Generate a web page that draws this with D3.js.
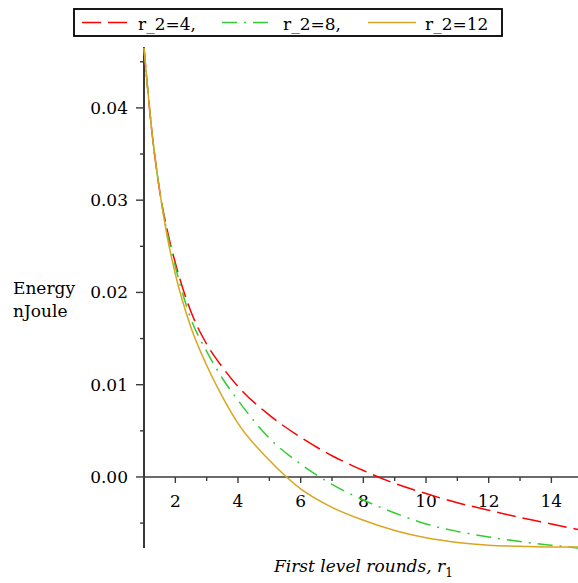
<!DOCTYPE html>
<html><head><meta charset="utf-8">
<script src="https://cdn.jsdelivr.net/npm/d3@7"></script>
<style>body{margin:0;background:#fff}svg{display:block}</style>
</head><body>
<script>
const xValues = [1, 1.25, 1.5, 1.75, 2, 2.5, 3, 3.5, 4, 5, 6, 7, 8, 9, 10, 11, 12, 13, 14, 14.85];
const seriesNames = ["r_2=4,", "r_2=8,", "r_2=12"];
const r2_4  = [0.0465,0.0375,0.0310,0.0266,0.0232,0.0179,0.0144,0.0119,0.0098,0.0067,0.0043,0.0023,0.0007,-0.0007,-0.0018,-0.0028,-0.0036,-0.0044,-0.0051,-0.0057];
const r2_8  = [0.0465,0.0375,0.0310,0.0263,0.0228,0.0171,0.0136,0.0107,0.0083,0.0042,0.0014,-0.0008,-0.0025,-0.0039,-0.0051,-0.0059,-0.0065,-0.0070,-0.0074,-0.0077];
const r2_12 = [0.0465,0.0375,0.0310,0.0259,0.0220,0.0162,0.0121,0.0087,0.0058,0.0018,-0.0013,-0.0033,-0.0047,-0.0058,-0.0066,-0.0071,-0.0074,-0.0075,-0.0076,-0.0076];
const xTickLabels = ["2","4","6","8","10","12","14"];
const yTickLabels = ["0.00","0.01","0.02","0.03","0.04"];

const W = 578, H = 583;
const font = "'DejaVu Serif', serif";
const svg = d3.select("body").append("svg").attr("width", W).attr("height", H);

const x = d3.scaleLinear().domain([1, 14.85]).range([144, 578]);
const y = d3.scaleLinear().domain([-0.0077, 0.0466]).range([548, 47]);
const axisColor = "#3a3a3a";

// X axis (at y=0)
const xMajor = xTickLabels.map(Number);
const xMinor = d3.range(3, 15, 2);
const gx = svg.append("g").attr("transform", `translate(0,${y(0)})`);
gx.append("line").attr("x1", x(1)).attr("x2", W).attr("stroke", axisColor).attr("stroke-width", 1.6);
gx.selectAll(".mj").data(xMajor).join("line").attr("x1", d => x(d)).attr("x2", d => x(d)).attr("y1", 0).attr("y2", 6).attr("stroke", axisColor).attr("stroke-width", 1.4);
gx.selectAll(".mn").data(xMinor).join("line").attr("x1", d => x(d)).attr("x2", d => x(d)).attr("y1", 0).attr("y2", 4).attr("stroke", axisColor).attr("stroke-width", 1.4);
gx.selectAll("text").data(xTickLabels).join("text").attr("x", d => x(+d)).attr("y", 30)
  .attr("text-anchor", "middle").attr("font-family", font).attr("font-size", 17).attr("fill", "#000").text(d => d);

// Y axis
const yMajor = yTickLabels.map(Number);
const yMinor = [-0.005, 0.005, 0.015, 0.025, 0.035, 0.045];
const gy = svg.append("g").attr("transform", `translate(${x(1)},0)`);
gy.append("line").attr("y1", y(0.0466)).attr("y2", y(-0.0077)).attr("stroke", axisColor).attr("stroke-width", 2);
gy.selectAll(".mj").data(yMajor).join("line").attr("y1", d => y(d)).attr("y2", d => y(d)).attr("x1", -8).attr("x2", 0).attr("stroke", axisColor).attr("stroke-width", 1.4);
gy.selectAll(".mn").data(yMinor).join("line").attr("y1", d => y(d)).attr("y2", d => y(d)).attr("x1", -4).attr("x2", 0).attr("stroke", axisColor).attr("stroke-width", 1.4);
gy.selectAll("text").data(yTickLabels).join("text").attr("x", -16).attr("y", d => y(+d) + 6)
  .attr("text-anchor", "end").attr("font-family", font).attr("font-size", 17).attr("fill", "#000").text(d => d);

// Axis titles
const yt = svg.append("text").attr("font-family", font).attr("font-size", 17).attr("fill", "#000");
yt.append("tspan").attr("x", 13).attr("y", 294).text("Energy");
yt.append("tspan").attr("x", 13).attr("y", 317).text("nJoule");
const xt = svg.append("text").attr("x", 274).attr("y", 572).attr("font-family", font).attr("font-size", 17).attr("font-style", "italic").attr("fill", "#000");
xt.append("tspan").text("First level rounds, r");
xt.append("tspan").attr("font-size", 12).attr("font-style", "normal").attr("dy", 5).text("1");

// Curves
const series = [
  {name: seriesNames[0], values: r2_4, color: "#ff0000", dash: "19,7"},
  {name: seriesNames[1], values: r2_8, color: "#33cc33", dash: "15,7,2,7"},
  {name: seriesNames[2], values: r2_12, color: "#daa520", dash: null}
];
const line = d3.line().x((d, i) => x(xValues[i])).y(d => y(d)).curve(d3.curveMonotoneX);
svg.selectAll(".curve").data(series).join("path").attr("class", "curve")
  .attr("d", d => line(d.values)).attr("fill", "none").attr("stroke", d => d.color)
  .attr("stroke-width", 1.5).attr("stroke-dasharray", d => d.dash);

// Legend
const lg = svg.append("g");
lg.append("rect").attr("x", 74).attr("y", 9).attr("width", 428).attr("height", 27).attr("fill", "#fff").attr("stroke", "#000").attr("stroke-width", 1.8);
const legendPos = [{lx: 82, tx: 138}, {lx: 222, tx: 283}, {lx: 368, tx: 425}];
series.forEach((s, i) => {
  lg.append("line").attr("x1", legendPos[i].lx).attr("x2", legendPos[i].lx + 48).attr("y1", 22.5).attr("y2", 22.5)
    .attr("stroke", s.color).attr("stroke-width", 1.5).attr("stroke-dasharray", s.dash);
  lg.append("text").attr("x", legendPos[i].tx).attr("y", 30).attr("font-family", font).attr("font-size", 17).attr("fill", "#000").text(s.name);
});
</script>
</body></html>
